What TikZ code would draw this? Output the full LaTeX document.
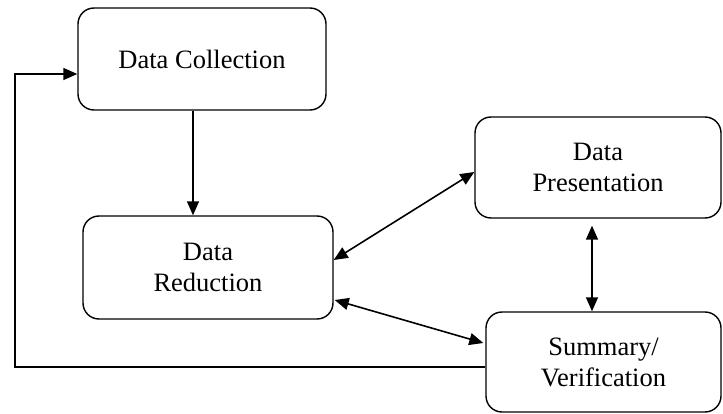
\documentclass[tikz,border=0pt]{standalone}
\usepackage{fontspec}
\setmainfont{Liberation Serif}
\usetikzlibrary{arrows.meta}
\begin{document}
\begin{tikzpicture}[x=1pt,y=-1pt,
  box/.style={draw, line width=1.4pt, rounded corners=16pt, align=center,
    font=\fontsize{26.5}{31}\selectfont, inner sep=0pt},
  conn/.style={line width=1.6pt},
  arr/.style={conn, -{Triangle[length=14pt,width=12pt]}},
  darr/.style={conn, {Triangle[length=14pt,width=12pt]}-{Triangle[length=14pt,width=12pt]}}]
\useasboundingbox (0,0) rectangle (723,414);
\node[box, minimum width=248pt, minimum height=102pt] (DC) at (202,59) {Data Collection};
\node[box, minimum width=250pt, minimum height=103pt] (DR) at (208,267.5) {Data\\Reduction};
\node[box, minimum width=246pt, minimum height=101pt] (DP) at (598,167.5) {Data\\Presentation};
\node[box, minimum width=235pt, minimum height=100pt] (SV) at (603.5,362) {Summary/\\Verification};
\coordinate (fb) at (15,200);
\draw[arr] ([xshift=-9pt]DC.south) -- ([xshift=-15pt]DR.north);
\draw[arr] ([yshift=-5pt]SV.west) -| (fb) |- ([yshift=-15pt]DC.west);
\draw[darr] ([yshift=7.5pt]DR.east) -- ([yshift=-4.5pt]DP.west);
\draw[darr] ([xshift=1pt,yshift=-32.5pt]DR.east) -- ([xshift=-2pt,yshift=19pt]SV.west);
\draw[darr] ([xshift=-6pt,yshift=-7pt]DP.south) -- ([xshift=-11.5pt]SV.north);
\end{tikzpicture}
\end{document}
